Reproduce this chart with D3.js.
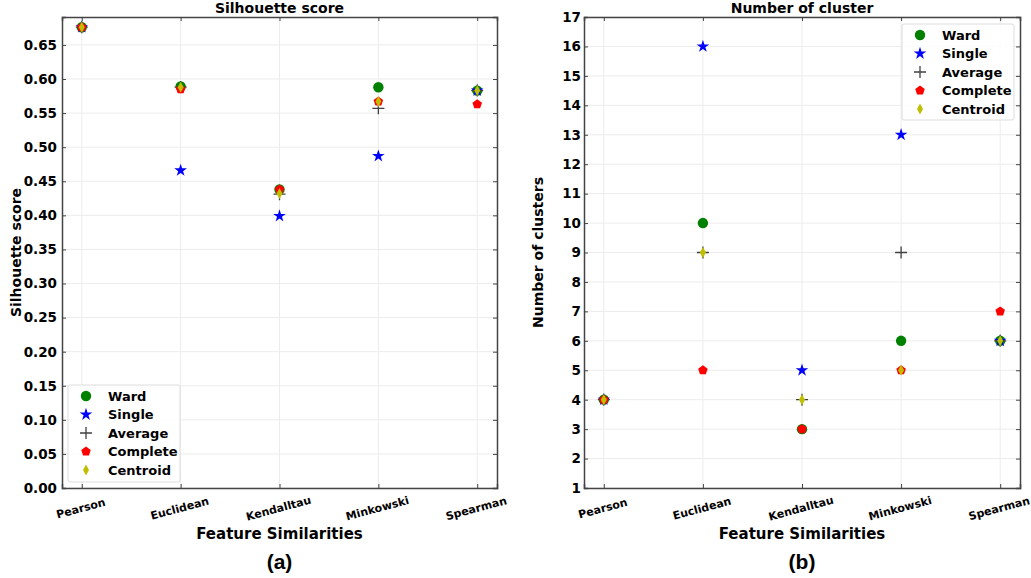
<!DOCTYPE html>
<html>
<head>
<meta charset="utf-8">
<script src="https://cdn.jsdelivr.net/npm/d3@7"></script>
<style>
  body { margin: 0; background: #fff; }
  text { font-family: "DejaVu Sans", sans-serif; font-weight: bold; fill: #000; }
</style>
</head>
<body>
<div class="chart"></div>
<script>
// categories on the x axis
const similarities = ['Pearson', 'Euclidean', 'Kendalltau', 'Minkowski', 'Spearman'];
const methods = ['Ward', 'Single', 'Average', 'Complete', 'Centroid'];

// silhouette score per method
const silWard     = [0.676, 0.589, 0.438, 0.588, 0.583];
const silSingle   = [0.676, 0.466, 0.399, 0.487, 0.583];
const silAverage  = [0.676, 0.588, 0.431, 0.557, 0.583];
const silComplete = [0.676, 0.585, 0.438, 0.567, 0.563];
const silCentroid = [0.676, 0.588, 0.432, 0.567, 0.583];

// number of clusters per method
const nWard     = [4, 10, 3, 6, 6];
const nSingle   = [4, 16, 5, 13, 6];
const nAverage  = [4, 9, 4, 9, 6];
const nComplete = [4, 5, 3, 5, 7];
const nCentroid = [4, 9, 4, 5, 6];

const silTicks = d3.range(0, 0.66, 0.05);
const nTicks = d3.range(1, 18, 1);

const W = 1031, H = 578;
const svg = d3.select('.chart').append('svg').attr('width', W).attr('height', H);

// marker paths
function pentagon(r) {
  const pts = d3.range(5).map(i => {
    const a = -Math.PI / 2 + i * 2 * Math.PI / 5;
    return [r * Math.cos(a), r * Math.sin(a)];
  });
  return 'M' + pts.join('L') + 'Z';
}
function thinDiamond(w, h) {
  return `M0,${-h}L${w},0L0,${h}L${-w},0Z`;
}
const markers = {
  Ward:     { draw: g => g.append('path').attr('d', d3.symbol(d3.symbolCircle, 85)()).attr('fill', '#008000') },
  Single:   { draw: g => g.append('path').attr('d', d3.symbol(d3.symbolStar, 50)()).attr('fill', '#0000ff') },
  Average:  { draw: g => g.append('path').attr('d', 'M-6,0H6M0,-6V6').attr('stroke', '#404040').attr('stroke-width', 1.3).attr('fill', 'none') },
  Complete: { draw: g => g.append('path').attr('d', pentagon(5)).attr('fill', '#ff0000') },
  Centroid: { draw: g => g.append('path').attr('d', thinDiamond(3, 5.5)).attr('fill', '#bfbf00') }
};

function panel(opts) {
  const { left, right, top, bottom, yDomain, ticks, tickFmt, pad, series, title, ylabel, tag, legendBox } = opts;
  const g = svg.append('g');

  const x = d3.scaleLinear().domain([-0.2, similarities.length - 0.8]).range([left, right]);
  const y = d3.scaleLinear().domain(yDomain).range([bottom, top]);

  // grid
  g.selectAll('.gy').data(ticks).enter().append('line')
    .attr('x1', left).attr('x2', right)
    .attr('y1', d => y(d)).attr('y2', d => y(d))
    .attr('stroke', '#ececec').attr('stroke-width', 1);
  g.selectAll('.gx').data(similarities).enter().append('line')
    .attr('x1', (d, i) => x(i)).attr('x2', (d, i) => x(i))
    .attr('y1', top).attr('y2', bottom)
    .attr('stroke', '#ececec').attr('stroke-width', 1);

  // axes with inward ticks on all sides
  const yAxis = d3.axisLeft(y).tickValues(ticks).tickFormat(tickFmt).tickSize(-4).tickPadding(pad);
  const ya = g.append('g').attr('transform', `translate(${left},0)`).call(yAxis);
  ya.selectAll('text').style('font-size', '13.5px');
  g.append('g').attr('transform', `translate(${right},0)`)
    .call(d3.axisRight(y).tickValues(ticks).tickSize(-4).tickFormat(''));

  const xAxis = d3.axisBottom(x).tickValues(d3.range(similarities.length)).tickSize(-4).tickFormat('');
  g.append('g').attr('transform', `translate(0,${bottom})`).call(xAxis);
  g.append('g').attr('transform', `translate(0,${top})`)
    .call(d3.axisTop(x).tickValues(d3.range(similarities.length)).tickSize(-4).tickFormat(''));

  g.selectAll('.domain').attr('stroke', '#444').attr('stroke-width', 1.5);
  g.selectAll('.tick line').attr('stroke', '#444');

  g.selectAll('.xl').data(similarities).enter().append('text')
    .attr('transform', (d, i) => `translate(${x(i)},${bottom + 24}) rotate(-15)`)
    .attr('text-anchor', 'middle')
    .style('font-size', '11px')
    .text(d => d);

  // points
  methods.forEach((m, k) => {
    series[k].forEach((v, i) => {
      const mg = g.append('g').attr('transform', `translate(${x(i)},${y(v)})`);
      markers[m].draw(mg);
    });
  });

  // titles
  g.append('text').attr('x', (left + right) / 2).attr('y', 13)
    .attr('text-anchor', 'middle').style('font-size', '14px').text(title);
  g.append('text').attr('transform', `translate(${left - 41},${(top + bottom) / 2}) rotate(-90)`)
    .attr('text-anchor', 'middle').style('font-size', '14px').text(ylabel);
  g.append('text').attr('x', (left + right) / 2).attr('y', 539)
    .attr('text-anchor', 'middle').style('font-size', '15px').text('Feature Similarities');
  g.append('text').attr('x', (left + right) / 2).attr('y', 569)
    .attr('text-anchor', 'middle')
    .style('font-family', '"Liberation Sans", Arial, sans-serif').style('font-size', '21px')
    .text(tag);

  // legend
  const lb = legendBox;
  g.append('rect').attr('x', lb.x).attr('y', lb.y).attr('width', lb.w).attr('height', lb.h)
    .attr('rx', 2).attr('fill', '#fff').attr('fill-opacity', 0.8)
    .attr('stroke', '#ddd').attr('stroke-width', 1);
  methods.forEach((m, k) => {
    const yy = lb.y + 11 + k * 18.5;
    const mg = g.append('g').attr('transform', `translate(${lb.x + 18},${yy})`);
    markers[m].draw(mg);
    g.append('text').attr('x', lb.x + 40).attr('y', yy + 4.5)
      .style('font-size', '13px').text(m);
  });
}

panel({
  left: 62, right: 497, top: 17, bottom: 488,
  yDomain: [0, 0.691], ticks: silTicks, tickFmt: d3.format('.2f'), pad: 5,
  series: [silWard, silSingle, silAverage, silComplete, silCentroid],
  title: 'Silhouette score', ylabel: 'Silhouette score', tag: '(a)',
  legendBox: { x: 68, y: 385, w: 112, h: 97 }
});

panel({
  left: 584, right: 1020, top: 17, bottom: 488,
  yDomain: [1, 17], ticks: nTicks, tickFmt: d3.format('d'), pad: 3,
  series: [nWard, nSingle, nAverage, nComplete, nCentroid],
  title: 'Number of cluster', ylabel: 'Number of clusters', tag: '(b)',
  legendBox: { x: 902, y: 24, w: 112, h: 96 }
});
</script>
</body>
</html>
